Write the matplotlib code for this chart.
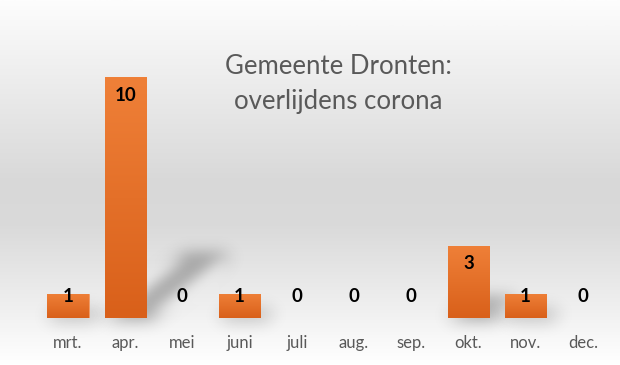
import numpy as np
import matplotlib
matplotlib.use("Agg")
import matplotlib.pyplot as plt
from matplotlib.colors import LinearSegmentedColormap
from matplotlib.patches import Polygon

months = ["mrt.", "apr.", "mei", "juni", "juli", "aug.", "sep.", "okt.", "nov.", "dec."]
deaths = [1, 10, 0, 1, 0, 0, 0, 3, 1, 0]
title = "Gemeente Dronten:\noverlijdens corona"

W, H, DPI = 620, 365, 100
fig = plt.figure(figsize=(W / DPI, H / DPI), dpi=DPI)

# background gradient
bg = fig.add_axes([0, 0, 1, 1])
bg.set_axis_off()
yy = np.linspace(0, 1, 400)[:, None]
bg_cmap = LinearSegmentedColormap.from_list(
    "bg", [(0, "#fdfdfd"), (0.12, "#f4f4f4"), (0.5, "#d8d8d8"), (0.62, "#dadada"), (0.85, "#f0f0f0"), (1, "#ffffff")])
bg.imshow(yy, aspect="auto", cmap=bg_cmap, extent=[0, 1, 1, 0], vmin=0, vmax=1)
bg.set_xlim(0, 1)
bg.set_ylim(1, 0)

base_px = 318.0
px_per_unit = 24.1
x0_px, step_px = 68.0, 57.2
left_px = x0_px - step_px / 2
ax = fig.add_axes([left_px / W, (H - base_px) / H, step_px * 10 / W, base_px / H])
ax.set_xlim(-0.5, 9.5)
ax.set_ylim(0, base_px / px_per_unit)
ax.patch.set_alpha(0)
for s in ax.spines.values():
    s.set_visible(False)
ax.set_yticks([])
ax.set_xticks(range(len(months)))
ax.set_xticklabels(months, family="Lato", fontsize=12, color="#595959")
ax.tick_params(axis="x", length=0, pad=12)


def blur_filter(sigma):
    def f(img, dpi):
        s = sigma * dpi / 72.0
        r = int(3 * s)
        k = np.exp(-0.5 * (np.arange(-r, r + 1) / s) ** 2)
        k /= k.sum()
        pad = r
        out = np.pad(img, ((pad, pad), (pad, pad), (0, 0)), mode="constant")
        for c in range(4):
            ch = out[:, :, c]
            ch = np.apply_along_axis(lambda m: np.convolve(m, k, mode="same"), 0, ch)
            ch = np.apply_along_axis(lambda m: np.convolve(m, k, mode="same"), 1, ch)
            out[:, :, c] = ch
        return out, -pad, -pad
    return f


width = 0.72
# shadows
for i, v in enumerate(deaths):
    if v <= 0:
        continue
    hpx = v * px_per_unit
    dx = 0.33 * hpx / step_px
    dy = 0.26 * hpx / px_per_unit
    xa, xb = i - width / 2, i + width / 2
    poly = Polygon([(xa, 0), (xb + 0.1, 0), (xb + dx + 0.1, dy), (xa + dx, dy)],
                   closed=True, facecolor="#666666", edgecolor="none", alpha=0.5, zorder=1)
    poly.set_agg_filter(blur_filter(6))
    ax.add_patch(poly)

bars = ax.bar(range(len(deaths)), deaths, width=width, color="#e8722c",
              edgecolor="#f09a66", linewidth=0.6, zorder=2)
bar_cmap = LinearSegmentedColormap.from_list("bar", ["#d9601a", "#ef8038"])
for b in bars:
    if b.get_height() <= 0:
        continue
    grad = np.linspace(0, 1, 100)[:, None]
    im = ax.imshow(grad, aspect="auto", cmap=bar_cmap, origin="lower",
                   extent=[b.get_x(), b.get_x() + b.get_width(), 0, b.get_height()], zorder=2.5)
    im.set_clip_path(b)
ax.set_xlim(-0.5, 9.5)
ax.set_ylim(0, base_px / px_per_unit)

for i, v in enumerate(deaths):
    ax.text(i, max(v - 0.75, 0.9), str(v), ha="center", va="center",
            family="Lato", fontweight="bold", fontsize=13.5, color="black", zorder=3)

fig.text(338 / W, 1 - 84 / H, title, ha="center", va="center", family="Lato",
         fontsize=18.5, color="#595959", linespacing=1.45)

fig.savefig("out.png", dpi=DPI)
